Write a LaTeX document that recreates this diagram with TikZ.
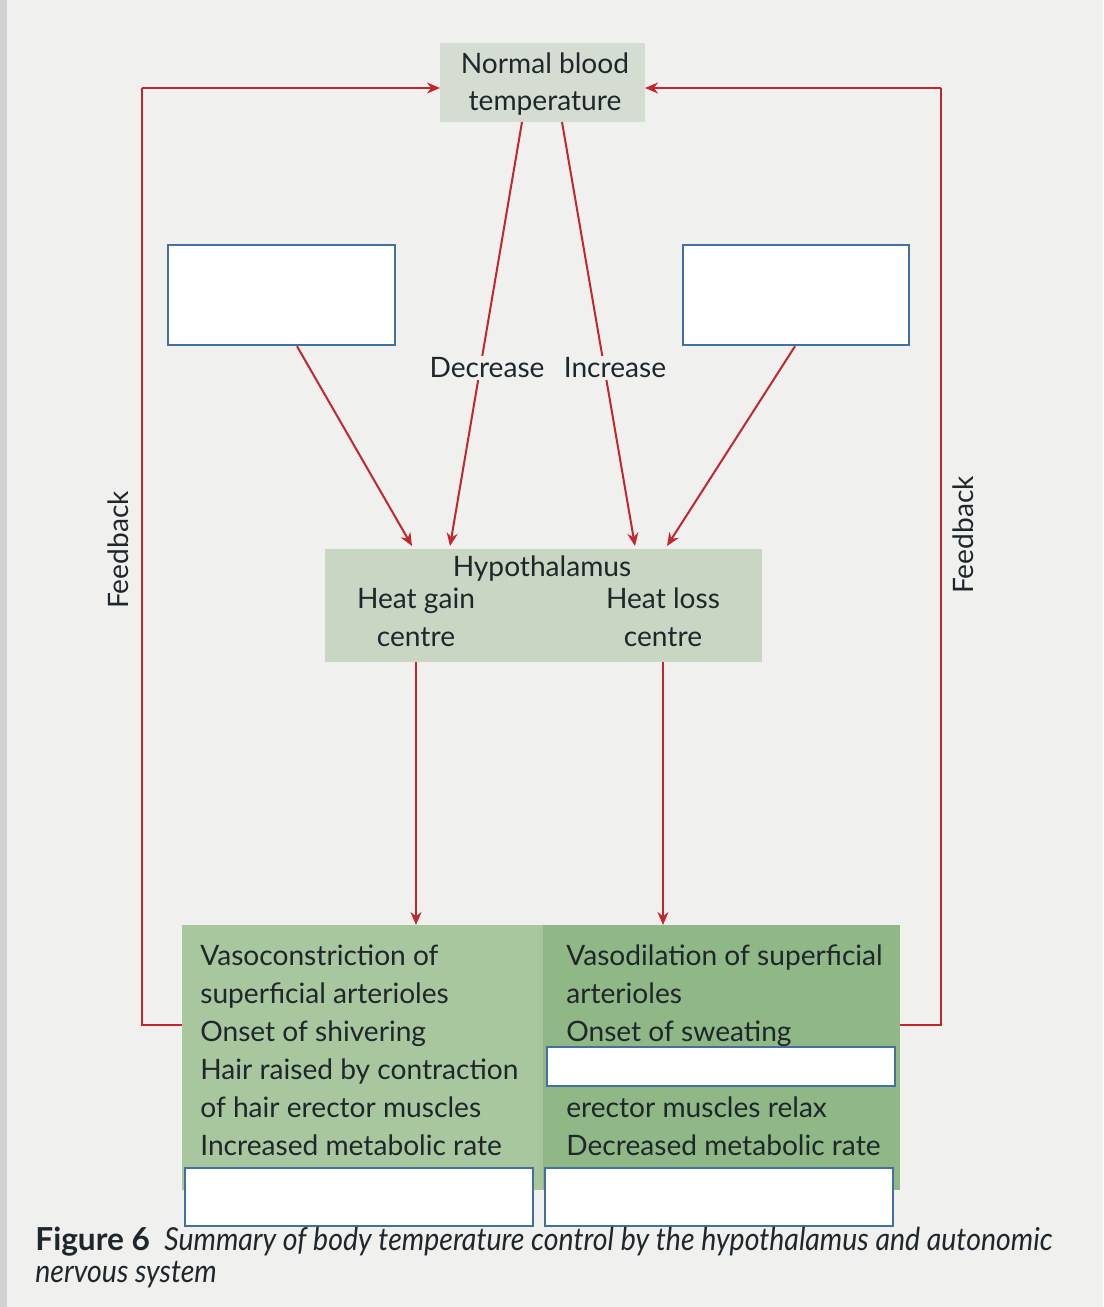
\documentclass[tikz,border=0pt]{standalone}
\usepackage{fontspec}
\setmainfont{Lato}
\newfontfamily\capfont[FakeStretch=0.9]{Lato}
\usetikzlibrary{arrows.meta, positioning, calc}
\definecolor{mRed}{HTML}{C1272D}
\definecolor{mBlue}{HTML}{41719C}
\definecolor{mPaper}{HTML}{F0F0EE}
\definecolor{mGrey}{HTML}{D5DDD3}
\definecolor{mHypo}{HTML}{C8D6C3}
\definecolor{mGreen}{HTML}{A9C79E}
\definecolor{mDark}{HTML}{90B886}
\definecolor{mInk}{HTML}{1E272B}

\begin{document}
\begin{tikzpicture}[x=0.2mm, y=-0.2mm,
    every node/.style={text=mInk, inner sep=0pt, font=\fontsize{16}{21.6}\selectfont},
    box/.style={inner sep=0pt, outer sep=0pt},
    blank/.style={draw=mBlue, fill=white, line width=0.5mm, inner sep=0pt},
    arr/.style={draw=mRed, line width=0.4mm, -{Stealth[length=2.6mm, width=2.2mm]}},
    fb/.style={draw=mRed, line width=0.4mm},
    lbl/.style={fill=mPaper, inner sep=1pt}]
  % paper
  \fill[mPaper] (0,0) rectangle (1103,1307);
  \fill[black!18] (0,0) rectangle (7,1307);
  \useasboundingbox (0,0) rectangle (1103,1307);
  % boxes
  \node[box, fill=mGrey, minimum width=41mm, minimum height=15.8mm] (normal) at (542.5,82.5) {};
  \node[box, fill=mHypo, minimum width=87.4mm, minimum height=22.6mm] (hypo) at (543.5,605.5) {};
  \node[box, fill=mGreen, minimum width=72.2mm, minimum height=53mm] (gain) at (362.5,1057.5) {};
  \node[box, fill=mDark, minimum width=71.4mm, minimum height=53mm] (loss) at (721.5,1057.5) {};
  % texts
  \node[align=center, anchor=base] (normaltxt) at (545,111) {Normal blood\\temperature};
  \node[anchor=base] (hypotxt) at (542,576) {Hypothalamus};
  \node[align=center, anchor=base] (gaintxt) at (416,646) {Heat gain\\centre};
  \node[align=center, anchor=base] (losstxt) at (663,646) {Heat loss\\centre};
  \node[align=left, anchor=base west] (gainlist) at (200,1155)
    {Vasoconstriction of\\superficial arterioles\\Onset of shivering\\Hair raised by contraction\\of hair erector muscles\\Increased metabolic rate};
  \node[align=left, anchor=base west] (losslist) at (566,1155)
    {Vasodilation of superficial\\arterioles\\Onset of sweating\\\mbox{}\\erector muscles relax\\Decreased metabolic rate};
  % blanks
  \node[blank, minimum width=45.4mm, minimum height=20mm] (blankTL) at (281.5,295) {};
  \node[blank, minimum width=45.2mm, minimum height=20mm] (blankTR) at (796,295) {};
  \node[blank, minimum width=69.6mm, minimum height=7.8mm] (blankM) at (721,1066.5) {};
  \node[blank, minimum width=69.6mm, minimum height=11.6mm] (blankBL) at (359,1197) {};
  \node[blank, minimum width=69.6mm, minimum height=11.6mm] (blankBR) at (719,1197) {};
  % arrows
  \draw[arr] ($(normal.south)+(-20.5,0)$) -- ($(hypo.north)+(-93.5,-3)$);
  \draw[arr] ($(normal.south)+(19.5,0)$) -- ($(hypo.north)+(91.5,-3)$);
  \draw[arr] ($(blankTL.south)+(15.5,0)$) -- ($(hypo.north)+(-131.5,-3)$);
  \draw[arr] ($(blankTR.south)+(-1,0)$) -- ($(hypo.north)+(123.5,-3)$);
  \draw[arr] (gaintxt.south |- hypo.south) -- (gaintxt.south |- gain.north);
  \draw[arr] (losstxt.south |- hypo.south) -- (losstxt.south |- loss.north);
  \node[lbl] (dec) at (487,368) {Decrease};
  \node[lbl] (inc) at (615,368) {Increase};
  % feedback
  \coordinate (fbL) at (142,88);
  \coordinate (fbR) at (941,88);
  \draw[fb] (gain.west |- 0,1025) -- (fbL |- 0,1025) -- (fbL);
  \draw[arr] (fbL) -- (normal.west |- fbL);
  \draw[fb] (loss.east |- 0,1025) -- (fbR |- 0,1025) -- (fbR);
  \draw[arr] (fbR) -- (normal.east |- fbR);
  \node[rotate=90] (fbtxtL) at (118,550) {Feedback};
  \node[rotate=90] (fbtxtR) at (963,535) {Feedback};
  % caption
  \node[align=left, anchor=base west, font=\fontsize{18}{18.2}\selectfont] (caption) at (35,1282)
    {{\bfseries Figure 6}\hspace{0.45em}{\capfont\itshape Summary of body temperature control by the hypothalamus and autonomic}\\
     {\capfont\itshape nervous system}};
\end{tikzpicture}
\end{document}
